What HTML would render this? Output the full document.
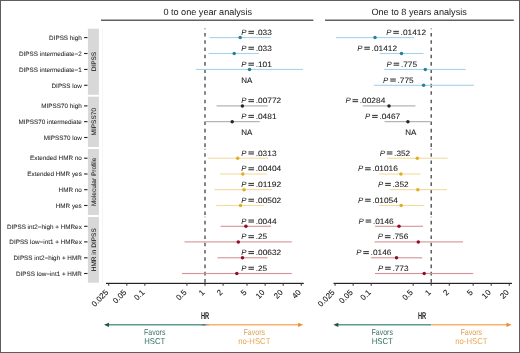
<!DOCTYPE html><html><head><meta charset="utf-8"><style>
html,body{margin:0;padding:0;background:#fff;}
svg{display:block;will-change:transform;}
text{font-family:"Liberation Sans",sans-serif;text-rendering:geometricPrecision;}
</style></head><body>
<svg width="520" height="353" viewBox="0 0 520 353">
<defs><linearGradient id="mg" x1="0" x2="1" y1="0" y2="0"><stop offset="0" stop-color="#458a7a"/><stop offset="0.35" stop-color="#6a6e6c"/><stop offset="0.7" stop-color="#b0a898"/><stop offset="1" stop-color="#f2a857"/></linearGradient></defs>
<rect x="0" y="0" width="520" height="353" fill="#fff"/>
<text x="207.7" y="14.75" font-size="9.1" text-anchor="middle" fill="#1a1a1a" textLength="88.6" lengthAdjust="spacingAndGlyphs">0 to one year analysis</text>
<text x="419.1" y="14.75" font-size="9.1" text-anchor="middle" fill="#1a1a1a" textLength="95.4" lengthAdjust="spacingAndGlyphs">One to 8 years analysis</text>
<rect x="101" y="19.6" width="212.4" height="1.2" fill="#3a3a3a"/>
<rect x="325" y="19.6" width="188.8" height="1.2" fill="#3a3a3a"/>
<rect x="87.9" y="28.70" width="11.0" height="66.05" fill="#d8d8d8"/>
<text transform="translate(95.5,61.62) rotate(-90)" x="0" y="0" font-size="6.5" text-anchor="middle" fill="#1a1a1a" stroke="#1a1a1a" stroke-width="0.06">DIPSS</text>
<rect x="87.9" y="96.70" width="11.0" height="50.25" fill="#d8d8d8"/>
<text transform="translate(95.5,121.72) rotate(-90)" x="0" y="0" font-size="6.5" text-anchor="middle" fill="#1a1a1a" stroke="#1a1a1a" stroke-width="0.06">MIPSS70</text>
<rect x="87.9" y="149.00" width="11.0" height="66.00" fill="#d8d8d8"/>
<text transform="translate(95.5,181.90) rotate(-90)" x="0" y="0" font-size="6.5" text-anchor="middle" fill="#1a1a1a" stroke="#1a1a1a" stroke-width="0.06">Molecular Profile</text>
<rect x="87.9" y="217.00" width="11.0" height="65.70" fill="#d8d8d8"/>
<text transform="translate(95.5,249.75) rotate(-90)" x="0" y="0" font-size="6.5" text-anchor="middle" fill="#1a1a1a" stroke="#1a1a1a" stroke-width="0.06">HMR in DIPSS</text>
<rect x="102" y="28.4" width="0.6" height="254.5" fill="#f0f0f0"/>
<text x="81.8" y="39.80" font-size="6.33" text-anchor="end" fill="#262626" stroke="#262626" stroke-width="0.06">DIPSS high</text>
<rect x="84.1" y="37.05" width="3.4" height="1.1" fill="#222"/>
<text x="81.8" y="55.70" font-size="6.33" text-anchor="end" fill="#262626" stroke="#262626" stroke-width="0.06">DIPSS intermediate−2</text>
<rect x="84.1" y="52.95" width="3.4" height="1.1" fill="#222"/>
<text x="81.8" y="71.65" font-size="6.33" text-anchor="end" fill="#262626" stroke="#262626" stroke-width="0.06">DIPSS intermediate−1</text>
<rect x="84.1" y="68.90" width="3.4" height="1.1" fill="#222"/>
<text x="81.8" y="87.50" font-size="6.33" text-anchor="end" fill="#262626" stroke="#262626" stroke-width="0.06">DIPSS low</text>
<rect x="84.1" y="84.75" width="3.4" height="1.1" fill="#222"/>
<text x="81.8" y="108.10" font-size="6.33" text-anchor="end" fill="#262626" stroke="#262626" stroke-width="0.06">MIPSS70 high</text>
<rect x="84.1" y="105.35" width="3.4" height="1.1" fill="#222"/>
<text x="81.8" y="123.85" font-size="6.33" text-anchor="end" fill="#262626" stroke="#262626" stroke-width="0.06">MIPSS70 intermediate</text>
<rect x="84.1" y="121.10" width="3.4" height="1.1" fill="#222"/>
<text x="81.8" y="139.70" font-size="6.33" text-anchor="end" fill="#262626" stroke="#262626" stroke-width="0.06">MIPSS70 low</text>
<rect x="84.1" y="136.95" width="3.4" height="1.1" fill="#222"/>
<text x="81.8" y="160.40" font-size="6.33" text-anchor="end" fill="#262626" stroke="#262626" stroke-width="0.06">Extended HMR no</text>
<rect x="84.1" y="157.65" width="3.4" height="1.1" fill="#222"/>
<text x="81.8" y="176.20" font-size="6.33" text-anchor="end" fill="#262626" stroke="#262626" stroke-width="0.06">Extended HMR yes</text>
<rect x="84.1" y="173.45" width="3.4" height="1.1" fill="#222"/>
<text x="81.8" y="191.85" font-size="6.33" text-anchor="end" fill="#262626" stroke="#262626" stroke-width="0.06">HMR no</text>
<rect x="84.1" y="189.10" width="3.4" height="1.1" fill="#222"/>
<text x="81.8" y="207.70" font-size="6.33" text-anchor="end" fill="#262626" stroke="#262626" stroke-width="0.06">HMR yes</text>
<rect x="84.1" y="204.95" width="3.4" height="1.1" fill="#222"/>
<text x="81.8" y="228.50" font-size="6.33" text-anchor="end" fill="#262626" stroke="#262626" stroke-width="0.06">DIPSS int2−high + HMRex</text>
<rect x="84.1" y="225.75" width="3.4" height="1.1" fill="#222"/>
<text x="81.8" y="244.10" font-size="6.33" text-anchor="end" fill="#262626" stroke="#262626" stroke-width="0.06">DIPSS low−int1 + HMRex</text>
<rect x="84.1" y="241.35" width="3.4" height="1.1" fill="#222"/>
<text x="81.8" y="260.00" font-size="6.33" text-anchor="end" fill="#262626" stroke="#262626" stroke-width="0.06">DIPSS int2−high + HMR</text>
<rect x="84.1" y="257.25" width="3.4" height="1.1" fill="#222"/>
<text x="81.8" y="275.70" font-size="6.33" text-anchor="end" fill="#262626" stroke="#262626" stroke-width="0.06">DIPSS low−int1 + HMR</text>
<rect x="84.1" y="272.95" width="3.4" height="1.1" fill="#222"/>
<line x1="205.0" y1="94.75" x2="205.0" y2="28.50" stroke="#444" stroke-width="1.3" stroke-dasharray="3.6 3.68"/>
<line x1="205.0" y1="146.95" x2="205.0" y2="96.50" stroke="#444" stroke-width="1.3" stroke-dasharray="3.6 3.68"/>
<line x1="205.0" y1="215.00" x2="205.0" y2="148.80" stroke="#444" stroke-width="1.3" stroke-dasharray="3.6 3.68"/>
<line x1="205.0" y1="282.70" x2="205.0" y2="216.80" stroke="#444" stroke-width="1.3" stroke-dasharray="3.6 3.68"/>
<line x1="431.2" y1="94.75" x2="431.2" y2="28.50" stroke="#444" stroke-width="1.3" stroke-dasharray="3.6 3.68"/>
<line x1="431.2" y1="146.95" x2="431.2" y2="96.50" stroke="#444" stroke-width="1.3" stroke-dasharray="3.6 3.68"/>
<line x1="431.2" y1="215.00" x2="431.2" y2="148.80" stroke="#444" stroke-width="1.3" stroke-dasharray="3.6 3.68"/>
<line x1="431.2" y1="282.70" x2="431.2" y2="216.80" stroke="#444" stroke-width="1.3" stroke-dasharray="3.6 3.68"/>
<rect x="209.60" y="37.05" width="61.20" height="1.1" fill="#a8d2e6"/>
<circle cx="240.20" cy="37.60" r="1.75" fill="#27809c"/>
<text x="241.30" y="35.00" font-size="7.8" fill="#222"><tspan font-style="italic">P</tspan></text><rect x="248.40" y="30.80" width="5.6" height="1.15" fill="#444"/><rect x="248.40" y="32.75" width="5.6" height="1.15" fill="#444"/><text x="255.70" y="35.00" font-size="7.8" fill="#222" stroke="#222" stroke-width="0.08" textLength="16.15" lengthAdjust="spacingAndGlyphs">.033</text>
<rect x="208.50" y="52.95" width="50.30" height="1.1" fill="#a8d2e6"/>
<circle cx="234.20" cy="53.50" r="1.75" fill="#27809c"/>
<text x="241.30" y="50.90" font-size="7.8" fill="#222"><tspan font-style="italic">P</tspan></text><rect x="248.40" y="46.70" width="5.6" height="1.15" fill="#444"/><rect x="248.40" y="48.65" width="5.6" height="1.15" fill="#444"/><text x="255.70" y="50.90" font-size="7.8" fill="#222" stroke="#222" stroke-width="0.08" textLength="16.15" lengthAdjust="spacingAndGlyphs">.033</text>
<rect x="195.80" y="68.90" width="107.20" height="1.1" fill="#a8d2e6"/>
<circle cx="249.50" cy="69.45" r="1.75" fill="#27809c"/>
<text x="241.30" y="66.85" font-size="7.8" fill="#222"><tspan font-style="italic">P</tspan></text><rect x="248.40" y="62.65" width="5.6" height="1.15" fill="#444"/><rect x="248.40" y="64.60" width="5.6" height="1.15" fill="#444"/><text x="255.70" y="66.85" font-size="7.8" fill="#222" stroke="#222" stroke-width="0.08" textLength="16.15" lengthAdjust="spacingAndGlyphs">.101</text>
<rect x="216.50" y="105.35" width="51.30" height="1.1" fill="#ababab"/>
<circle cx="242.40" cy="105.90" r="1.75" fill="#262626"/>
<text x="241.30" y="103.30" font-size="7.8" fill="#222"><tspan font-style="italic">P</tspan></text><rect x="248.40" y="99.10" width="5.6" height="1.15" fill="#444"/><rect x="248.40" y="101.05" width="5.6" height="1.15" fill="#444"/><text x="255.70" y="103.30" font-size="7.8" fill="#222" stroke="#222" stroke-width="0.08" textLength="25.48" lengthAdjust="spacingAndGlyphs">.00772</text>
<rect x="205.00" y="121.10" width="54.70" height="1.1" fill="#ababab"/>
<circle cx="232.20" cy="121.65" r="1.75" fill="#262626"/>
<text x="241.30" y="119.05" font-size="7.8" fill="#222"><tspan font-style="italic">P</tspan></text><rect x="248.40" y="114.85" width="5.6" height="1.15" fill="#444"/><rect x="248.40" y="116.80" width="5.6" height="1.15" fill="#444"/><text x="255.70" y="119.05" font-size="7.8" fill="#222" stroke="#222" stroke-width="0.08" textLength="20.82" lengthAdjust="spacingAndGlyphs">.0481</text>
<rect x="207.70" y="157.65" width="60.30" height="1.1" fill="#f2dc9c"/>
<circle cx="237.70" cy="158.20" r="1.75" fill="#e0ae22"/>
<text x="241.30" y="155.60" font-size="7.8" fill="#222"><tspan font-style="italic">P</tspan></text><rect x="248.40" y="151.40" width="5.6" height="1.15" fill="#444"/><rect x="248.40" y="153.35" width="5.6" height="1.15" fill="#444"/><text x="255.70" y="155.60" font-size="7.8" fill="#222" stroke="#222" stroke-width="0.08" textLength="20.82" lengthAdjust="spacingAndGlyphs">.0313</text>
<rect x="220.00" y="173.45" width="46.90" height="1.1" fill="#f2dc9c"/>
<circle cx="242.80" cy="174.00" r="1.75" fill="#e0ae22"/>
<text x="241.30" y="171.40" font-size="7.8" fill="#222"><tspan font-style="italic">P</tspan></text><rect x="248.40" y="167.20" width="5.6" height="1.15" fill="#444"/><rect x="248.40" y="169.15" width="5.6" height="1.15" fill="#444"/><text x="255.70" y="171.40" font-size="7.8" fill="#222" stroke="#222" stroke-width="0.08" textLength="25.48" lengthAdjust="spacingAndGlyphs">.00404</text>
<rect x="214.20" y="189.10" width="57.80" height="1.1" fill="#f2dc9c"/>
<circle cx="244.00" cy="189.65" r="1.75" fill="#e0ae22"/>
<text x="241.30" y="187.05" font-size="7.8" fill="#222"><tspan font-style="italic">P</tspan></text><rect x="248.40" y="182.85" width="5.6" height="1.15" fill="#444"/><rect x="248.40" y="184.80" width="5.6" height="1.15" fill="#444"/><text x="255.70" y="187.05" font-size="7.8" fill="#222" stroke="#222" stroke-width="0.08" textLength="25.48" lengthAdjust="spacingAndGlyphs">.01192</text>
<rect x="216.30" y="204.95" width="47.70" height="1.1" fill="#f2dc9c"/>
<circle cx="240.50" cy="205.50" r="1.75" fill="#e0ae22"/>
<text x="241.30" y="202.90" font-size="7.8" fill="#222"><tspan font-style="italic">P</tspan></text><rect x="248.40" y="198.70" width="5.6" height="1.15" fill="#444"/><rect x="248.40" y="200.65" width="5.6" height="1.15" fill="#444"/><text x="255.70" y="202.90" font-size="7.8" fill="#222" stroke="#222" stroke-width="0.08" textLength="25.48" lengthAdjust="spacingAndGlyphs">.00502</text>
<rect x="220.60" y="225.75" width="50.40" height="1.1" fill="#d69294"/>
<circle cx="245.90" cy="226.30" r="1.75" fill="#8e0e26"/>
<text x="241.30" y="223.70" font-size="7.8" fill="#222"><tspan font-style="italic">P</tspan></text><rect x="248.40" y="219.50" width="5.6" height="1.15" fill="#444"/><rect x="248.40" y="221.45" width="5.6" height="1.15" fill="#444"/><text x="255.70" y="223.70" font-size="7.8" fill="#222" stroke="#222" stroke-width="0.08" textLength="20.82" lengthAdjust="spacingAndGlyphs">.0044</text>
<rect x="184.50" y="241.35" width="107.20" height="1.1" fill="#d69294"/>
<circle cx="238.30" cy="241.90" r="1.75" fill="#8e0e26"/>
<text x="241.30" y="239.30" font-size="7.8" fill="#222"><tspan font-style="italic">P</tspan></text><rect x="248.40" y="235.10" width="5.6" height="1.15" fill="#444"/><rect x="248.40" y="237.05" width="5.6" height="1.15" fill="#444"/><text x="255.70" y="239.30" font-size="7.8" fill="#222" stroke="#222" stroke-width="0.08" textLength="11.49" lengthAdjust="spacingAndGlyphs">.25</text>
<rect x="217.50" y="257.25" width="50.00" height="1.1" fill="#d69294"/>
<circle cx="242.50" cy="257.80" r="1.75" fill="#8e0e26"/>
<text x="241.30" y="255.20" font-size="7.8" fill="#222"><tspan font-style="italic">P</tspan></text><rect x="248.40" y="251.00" width="5.6" height="1.15" fill="#444"/><rect x="248.40" y="252.95" width="5.6" height="1.15" fill="#444"/><text x="255.70" y="255.20" font-size="7.8" fill="#222" stroke="#222" stroke-width="0.08" textLength="25.48" lengthAdjust="spacingAndGlyphs">.00632</text>
<rect x="182.00" y="272.95" width="109.70" height="1.1" fill="#d69294"/>
<circle cx="236.80" cy="273.50" r="1.75" fill="#8e0e26"/>
<text x="241.30" y="270.90" font-size="7.8" fill="#222"><tspan font-style="italic">P</tspan></text><rect x="248.40" y="266.70" width="5.6" height="1.15" fill="#444"/><rect x="248.40" y="268.65" width="5.6" height="1.15" fill="#444"/><text x="255.70" y="270.90" font-size="7.8" fill="#222" stroke="#222" stroke-width="0.08" textLength="11.49" lengthAdjust="spacingAndGlyphs">.25</text>
<rect x="335.80" y="37.05" width="78.40" height="1.1" fill="#a8d2e6"/>
<circle cx="375.00" cy="37.60" r="1.75" fill="#27809c"/>
<text x="386.20" y="35.00" font-size="7.8" fill="#222"><tspan font-style="italic">P</tspan></text><rect x="393.30" y="30.80" width="5.6" height="1.15" fill="#444"/><rect x="393.30" y="32.75" width="5.6" height="1.15" fill="#444"/><text x="400.60" y="35.00" font-size="7.8" fill="#222" stroke="#222" stroke-width="0.08" textLength="25.48" lengthAdjust="spacingAndGlyphs">.01412</text>
<rect x="379.60" y="52.95" width="43.90" height="1.1" fill="#a8d2e6"/>
<circle cx="401.50" cy="53.50" r="1.75" fill="#27809c"/>
<text x="357.20" y="50.90" font-size="7.8" fill="#222"><tspan font-style="italic">P</tspan></text><rect x="364.30" y="46.70" width="5.6" height="1.15" fill="#444"/><rect x="364.30" y="48.65" width="5.6" height="1.15" fill="#444"/><text x="371.60" y="50.90" font-size="7.8" fill="#222" stroke="#222" stroke-width="0.08" textLength="25.48" lengthAdjust="spacingAndGlyphs">.01412</text>
<rect x="384.20" y="68.90" width="81.40" height="1.1" fill="#a8d2e6"/>
<circle cx="425.30" cy="69.45" r="1.75" fill="#27809c"/>
<text x="386.50" y="66.85" font-size="7.8" fill="#222"><tspan font-style="italic">P</tspan></text><rect x="393.60" y="62.65" width="5.6" height="1.15" fill="#444"/><rect x="393.60" y="64.60" width="5.6" height="1.15" fill="#444"/><text x="400.90" y="66.85" font-size="7.8" fill="#222" stroke="#222" stroke-width="0.08" textLength="16.15" lengthAdjust="spacingAndGlyphs">.775</text>
<rect x="373.80" y="84.75" width="100.10" height="1.1" fill="#a8d2e6"/>
<circle cx="423.60" cy="85.30" r="1.75" fill="#27809c"/>
<text x="383.10" y="82.70" font-size="7.8" fill="#222"><tspan font-style="italic">P</tspan></text><rect x="390.20" y="78.50" width="5.6" height="1.15" fill="#444"/><rect x="390.20" y="80.45" width="5.6" height="1.15" fill="#444"/><text x="397.50" y="82.70" font-size="7.8" fill="#222" stroke="#222" stroke-width="0.08" textLength="16.15" lengthAdjust="spacingAndGlyphs">.775</text>
<rect x="362.70" y="105.35" width="52.70" height="1.1" fill="#ababab"/>
<circle cx="389.00" cy="105.90" r="1.75" fill="#262626"/>
<text x="345.40" y="103.30" font-size="7.8" fill="#222"><tspan font-style="italic">P</tspan></text><rect x="352.50" y="99.10" width="5.6" height="1.15" fill="#444"/><rect x="352.50" y="101.05" width="5.6" height="1.15" fill="#444"/><text x="359.80" y="103.30" font-size="7.8" fill="#222" stroke="#222" stroke-width="0.08" textLength="25.48" lengthAdjust="spacingAndGlyphs">.00284</text>
<rect x="384.60" y="121.10" width="45.80" height="1.1" fill="#ababab"/>
<circle cx="407.90" cy="121.65" r="1.75" fill="#262626"/>
<text x="365.00" y="119.05" font-size="7.8" fill="#222"><tspan font-style="italic">P</tspan></text><rect x="372.10" y="114.85" width="5.6" height="1.15" fill="#444"/><rect x="372.10" y="116.80" width="5.6" height="1.15" fill="#444"/><text x="379.40" y="119.05" font-size="7.8" fill="#222" stroke="#222" stroke-width="0.08" textLength="20.82" lengthAdjust="spacingAndGlyphs">.0467</text>
<rect x="387.30" y="157.65" width="60.30" height="1.1" fill="#f2dc9c"/>
<circle cx="417.30" cy="158.20" r="1.75" fill="#e0ae22"/>
<text x="379.70" y="155.60" font-size="7.8" fill="#222"><tspan font-style="italic">P</tspan></text><rect x="386.80" y="151.40" width="5.6" height="1.15" fill="#444"/><rect x="386.80" y="153.35" width="5.6" height="1.15" fill="#444"/><text x="394.10" y="155.60" font-size="7.8" fill="#222" stroke="#222" stroke-width="0.08" textLength="16.15" lengthAdjust="spacingAndGlyphs">.352</text>
<rect x="379.20" y="173.45" width="41.50" height="1.1" fill="#f2dc9c"/>
<circle cx="400.90" cy="174.00" r="1.75" fill="#e0ae22"/>
<text x="358.00" y="171.40" font-size="7.8" fill="#222"><tspan font-style="italic">P</tspan></text><rect x="365.10" y="167.20" width="5.6" height="1.15" fill="#444"/><rect x="365.10" y="169.15" width="5.6" height="1.15" fill="#444"/><text x="372.40" y="171.40" font-size="7.8" fill="#222" stroke="#222" stroke-width="0.08" textLength="25.48" lengthAdjust="spacingAndGlyphs">.01016</text>
<rect x="389.60" y="189.10" width="57.40" height="1.1" fill="#f2dc9c"/>
<circle cx="417.80" cy="189.65" r="1.75" fill="#e0ae22"/>
<text x="378.10" y="187.05" font-size="7.8" fill="#222"><tspan font-style="italic">P</tspan></text><rect x="385.20" y="182.85" width="5.6" height="1.15" fill="#444"/><rect x="385.20" y="184.80" width="5.6" height="1.15" fill="#444"/><text x="392.50" y="187.05" font-size="7.8" fill="#222" stroke="#222" stroke-width="0.08" textLength="16.15" lengthAdjust="spacingAndGlyphs">.352</text>
<rect x="378.80" y="204.95" width="45.40" height="1.1" fill="#f2dc9c"/>
<circle cx="401.20" cy="205.50" r="1.75" fill="#e0ae22"/>
<text x="358.00" y="202.90" font-size="7.8" fill="#222"><tspan font-style="italic">P</tspan></text><rect x="365.10" y="198.70" width="5.6" height="1.15" fill="#444"/><rect x="365.10" y="200.65" width="5.6" height="1.15" fill="#444"/><text x="372.40" y="202.90" font-size="7.8" fill="#222" stroke="#222" stroke-width="0.08" textLength="25.48" lengthAdjust="spacingAndGlyphs">.01054</text>
<rect x="375.10" y="225.75" width="47.90" height="1.1" fill="#d69294"/>
<circle cx="399.00" cy="226.30" r="1.75" fill="#8e0e26"/>
<text x="358.50" y="223.70" font-size="7.8" fill="#222"><tspan font-style="italic">P</tspan></text><rect x="365.60" y="219.50" width="5.6" height="1.15" fill="#444"/><rect x="365.60" y="221.45" width="5.6" height="1.15" fill="#444"/><text x="372.90" y="223.70" font-size="7.8" fill="#222" stroke="#222" stroke-width="0.08" textLength="20.82" lengthAdjust="spacingAndGlyphs">.0146</text>
<rect x="374.50" y="241.35" width="88.50" height="1.1" fill="#d69294"/>
<circle cx="418.30" cy="241.90" r="1.75" fill="#8e0e26"/>
<text x="377.80" y="239.30" font-size="7.8" fill="#222"><tspan font-style="italic">P</tspan></text><rect x="384.90" y="235.10" width="5.6" height="1.15" fill="#444"/><rect x="384.90" y="237.05" width="5.6" height="1.15" fill="#444"/><text x="392.20" y="239.30" font-size="7.8" fill="#222" stroke="#222" stroke-width="0.08" textLength="16.15" lengthAdjust="spacingAndGlyphs">.756</text>
<rect x="370.90" y="257.25" width="51.30" height="1.1" fill="#d69294"/>
<circle cx="396.50" cy="257.80" r="1.75" fill="#8e0e26"/>
<text x="356.20" y="255.20" font-size="7.8" fill="#222"><tspan font-style="italic">P</tspan></text><rect x="363.30" y="251.00" width="5.6" height="1.15" fill="#444"/><rect x="363.30" y="252.95" width="5.6" height="1.15" fill="#444"/><text x="370.60" y="255.20" font-size="7.8" fill="#222" stroke="#222" stroke-width="0.08" textLength="20.82" lengthAdjust="spacingAndGlyphs">.0146</text>
<rect x="375.00" y="272.95" width="98.30" height="1.1" fill="#d69294"/>
<circle cx="424.20" cy="273.50" r="1.75" fill="#8e0e26"/>
<text x="378.00" y="270.90" font-size="7.8" fill="#222"><tspan font-style="italic">P</tspan></text><rect x="385.10" y="266.70" width="5.6" height="1.15" fill="#444"/><rect x="385.10" y="268.65" width="5.6" height="1.15" fill="#444"/><text x="392.40" y="270.90" font-size="7.8" fill="#222" stroke="#222" stroke-width="0.08" textLength="16.15" lengthAdjust="spacingAndGlyphs">.773</text>
<text x="241.2" y="82.70" font-size="8" fill="#222" stroke="#222" stroke-width="0.1">NA</text>
<text x="241.2" y="134.90" font-size="8" fill="#222" stroke="#222" stroke-width="0.1">NA</text>
<text x="405.2" y="134.90" font-size="8" fill="#222" stroke="#222" stroke-width="0.1">NA</text>
<rect x="106" y="282.79999999999995" width="197.8" height="1.2" fill="#222"/>
<rect x="108.22" y="283.40" width="1" height="2.4" fill="#333"/>
<text transform="translate(104.92,289.00) rotate(-45)" x="0" y="5.6" font-size="8" text-anchor="end" fill="#111" stroke="#111" stroke-width="0.08">0.025</text>
<rect x="126.31" y="283.40" width="1" height="2.4" fill="#333"/>
<text transform="translate(123.01,289.00) rotate(-45)" x="0" y="5.6" font-size="8" text-anchor="end" fill="#111" stroke="#111" stroke-width="0.08">0.05</text>
<rect x="144.40" y="283.40" width="1" height="2.4" fill="#333"/>
<text transform="translate(141.10,289.00) rotate(-45)" x="0" y="5.6" font-size="8" text-anchor="end" fill="#111" stroke="#111" stroke-width="0.08">0.1</text>
<rect x="186.41" y="283.40" width="1" height="2.4" fill="#333"/>
<text transform="translate(183.11,289.00) rotate(-45)" x="0" y="5.6" font-size="8" text-anchor="end" fill="#111" stroke="#111" stroke-width="0.08">0.5</text>
<rect x="204.50" y="283.40" width="1" height="2.4" fill="#333"/>
<text transform="translate(201.20,289.00) rotate(-45)" x="0" y="5.6" font-size="8" text-anchor="end" fill="#111" stroke="#111" stroke-width="0.08">1</text>
<rect x="222.59" y="283.40" width="1" height="2.4" fill="#333"/>
<text transform="translate(219.29,289.00) rotate(-45)" x="0" y="5.6" font-size="8" text-anchor="end" fill="#111" stroke="#111" stroke-width="0.08">2</text>
<rect x="246.51" y="283.40" width="1" height="2.4" fill="#333"/>
<text transform="translate(243.21,289.00) rotate(-45)" x="0" y="5.6" font-size="8" text-anchor="end" fill="#111" stroke="#111" stroke-width="0.08">5</text>
<rect x="264.60" y="283.40" width="1" height="2.4" fill="#333"/>
<text transform="translate(261.30,289.00) rotate(-45)" x="0" y="5.6" font-size="8" text-anchor="end" fill="#111" stroke="#111" stroke-width="0.08">10</text>
<rect x="282.69" y="283.40" width="1" height="2.4" fill="#333"/>
<text transform="translate(279.39,289.00) rotate(-45)" x="0" y="5.6" font-size="8" text-anchor="end" fill="#111" stroke="#111" stroke-width="0.08">20</text>
<rect x="300.78" y="283.40" width="1" height="2.4" fill="#333"/>
<text transform="translate(297.48,289.00) rotate(-45)" x="0" y="5.6" font-size="8" text-anchor="end" fill="#111" stroke="#111" stroke-width="0.08">40</text>
<rect x="333.5" y="282.79999999999995" width="178.5" height="1.2" fill="#222"/>
<rect x="334.58" y="283.40" width="1" height="2.4" fill="#333"/>
<text transform="translate(331.28,289.00) rotate(-45)" x="0" y="5.6" font-size="8" text-anchor="end" fill="#111" stroke="#111" stroke-width="0.08">0.025</text>
<rect x="352.64" y="283.40" width="1" height="2.4" fill="#333"/>
<text transform="translate(349.34,289.00) rotate(-45)" x="0" y="5.6" font-size="8" text-anchor="end" fill="#111" stroke="#111" stroke-width="0.08">0.05</text>
<rect x="370.70" y="283.40" width="1" height="2.4" fill="#333"/>
<text transform="translate(367.40,289.00) rotate(-45)" x="0" y="5.6" font-size="8" text-anchor="end" fill="#111" stroke="#111" stroke-width="0.08">0.1</text>
<rect x="412.64" y="283.40" width="1" height="2.4" fill="#333"/>
<text transform="translate(409.34,289.00) rotate(-45)" x="0" y="5.6" font-size="8" text-anchor="end" fill="#111" stroke="#111" stroke-width="0.08">0.5</text>
<rect x="430.70" y="283.40" width="1" height="2.4" fill="#333"/>
<text transform="translate(427.40,289.00) rotate(-45)" x="0" y="5.6" font-size="8" text-anchor="end" fill="#111" stroke="#111" stroke-width="0.08">1</text>
<rect x="448.76" y="283.40" width="1" height="2.4" fill="#333"/>
<text transform="translate(445.46,289.00) rotate(-45)" x="0" y="5.6" font-size="8" text-anchor="end" fill="#111" stroke="#111" stroke-width="0.08">2</text>
<rect x="472.64" y="283.40" width="1" height="2.4" fill="#333"/>
<text transform="translate(469.34,289.00) rotate(-45)" x="0" y="5.6" font-size="8" text-anchor="end" fill="#111" stroke="#111" stroke-width="0.08">5</text>
<rect x="490.70" y="283.40" width="1" height="2.4" fill="#333"/>
<text transform="translate(487.40,289.00) rotate(-45)" x="0" y="5.6" font-size="8" text-anchor="end" fill="#111" stroke="#111" stroke-width="0.08">10</text>
<rect x="508.76" y="283.40" width="1" height="2.4" fill="#333"/>
<text transform="translate(505.46,289.00) rotate(-45)" x="0" y="5.6" font-size="8" text-anchor="end" fill="#111" stroke="#111" stroke-width="0.08">20</text>
<text x="205.00" y="319.0" font-size="9.8" font-weight="bold" fill="#1a1a1a" text-anchor="middle" textLength="8.2" lengthAdjust="spacingAndGlyphs">HR</text><rect x="108.00" y="324.15000000000003" width="97.50" height="1.3" fill="#458a7a"/><rect x="205.50" y="324.15000000000003" width="93.60" height="1.3" fill="#f2a857"/><rect x="202.00" y="324.15000000000003" width="7" height="1.3" fill="url(#mg)"/><polygon points="104.00,324.8 109.00,322.7 109.00,326.90000000000003" fill="#205548"/><polygon points="303.10,324.8 298.10,322.7 298.10,326.90000000000003" fill="#e3902f"/><text x="154.75" y="334.85" font-size="8.4" text-anchor="middle" fill="#3d6f63" textLength="21.4" lengthAdjust="spacingAndGlyphs">Favors</text><text x="154.75" y="344.35" font-size="8.5" text-anchor="middle" fill="#2c6e5f" textLength="21" lengthAdjust="spacingAndGlyphs">HSCT</text><text x="254.30" y="334.85" font-size="8.4" text-anchor="middle" fill="#dca458" textLength="21.6" lengthAdjust="spacingAndGlyphs">Favors</text><text x="254.30" y="344.35" font-size="8.5" text-anchor="middle" fill="#e9a552" textLength="32.2" lengthAdjust="spacingAndGlyphs">no-HSCT</text>
<text x="422.00" y="319.0" font-size="9.8" font-weight="bold" fill="#1a1a1a" text-anchor="middle" textLength="8.2" lengthAdjust="spacingAndGlyphs">HR</text><rect x="337.30" y="324.15000000000003" width="93.90" height="1.3" fill="#458a7a"/><rect x="431.20" y="324.15000000000003" width="76.30" height="1.3" fill="#f2a857"/><polygon points="333.30,324.8 338.30,322.7 338.30,326.90000000000003" fill="#205548"/><polygon points="511.50,324.8 506.50,322.7 506.50,326.90000000000003" fill="#e3902f"/><text x="382.25" y="334.85" font-size="8.4" text-anchor="middle" fill="#3d6f63" textLength="21.4" lengthAdjust="spacingAndGlyphs">Favors</text><text x="382.25" y="344.35" font-size="8.5" text-anchor="middle" fill="#2c6e5f" textLength="21" lengthAdjust="spacingAndGlyphs">HSCT</text><text x="471.35" y="334.85" font-size="8.4" text-anchor="middle" fill="#dca458" textLength="21.6" lengthAdjust="spacingAndGlyphs">Favors</text><text x="471.35" y="344.35" font-size="8.5" text-anchor="middle" fill="#e9a552" textLength="32.2" lengthAdjust="spacingAndGlyphs">no-HSCT</text>
<rect x="0.5" y="0.5" width="519" height="352" fill="none" stroke="#5e5e5e" stroke-width="1"/>
</svg></body></html>
